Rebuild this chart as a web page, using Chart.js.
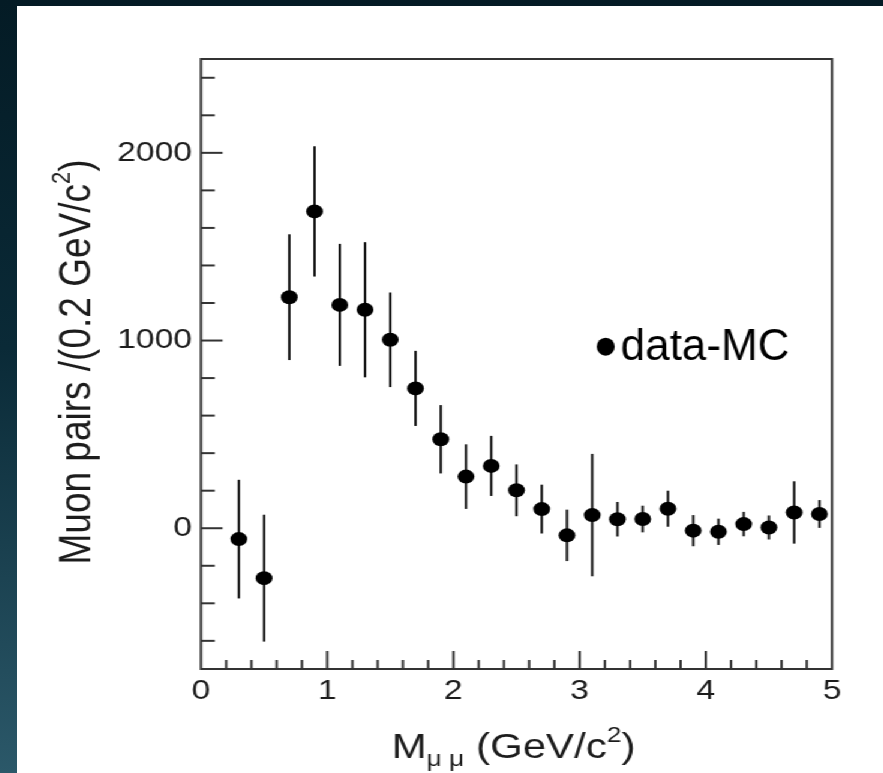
<!DOCTYPE html>
<html>
<head>
<meta charset="utf-8">
<script src="https://cdn.jsdelivr.net/npm/chart.js@4.4.0/dist/chart.umd.min.js"></script>
<style>
  html, body { margin: 0; padding: 0; }
  body {
    width: 883px; height: 773px; overflow: hidden;
    background: linear-gradient(180deg, #041b25 0%, #0a2a37 45%, #2b5869 100%);
  }
  /* the original figure is stretched sideways on the slide */
  #panel {
    position: absolute; left: 17px; top: 6px;
    width: 722px; height: 767px; background: #fff;
    transform: scaleX(1.2); transform-origin: 0 0;
  }
</style>
</head>
<body>
<div id="panel"><canvas id="muonChart" width="722" height="767"></canvas></div>
<script>
// bin centres (GeV/c^2), data-MC yields and their errors
const massBins = [0.3, 0.5, 0.7, 0.9, 1.1, 1.3, 1.5, 1.7, 1.9, 2.1, 2.3, 2.5,
                  2.7, 2.9, 3.1, 3.3, 3.5, 3.7, 3.9, 4.1, 4.3, 4.5, 4.7, 4.9];
const dataMinusMC = [-58, -266, 1231, 1688, 1190, 1164, 1004, 745, 474, 275, 332, 202,
                     102, -38, 70, 48, 49, 104, -13, -19, 22, 4, 84, 76];
const errors = [316, 338, 335, 347, 325, 360, 252, 200, 182, 172, 160, 138,
                130, 137, 326, 92, 71, 96, 83, 70, 65, 64, 166, 74];
const xTickLabels = [0, 1, 2, 3, 4, 5];
const yTickLabels = [0, 1000, 2000];
const legendLabel = 'data-MC';

const STRETCH = 1.2;
const FONT = "'Liberation Sans', Arial, sans-serif";
const INK = '#1c1c1c';

// draws text pieces (sub/superscripts) centred on 0
function drawPieces(ctx, pieces) {
  let total = 0;
  pieces.forEach(p => { ctx.font = p.size + 'px ' + FONT; p.w = ctx.measureText(p.t).width; total += p.w; });
  let cx = -total / 2;
  pieces.forEach(p => {
    ctx.font = p.size + 'px ' + FONT;
    ctx.fillText(p.t, cx, p.dy);
    cx += p.w;
  });
}

const physicsDecor = {
  id: 'physicsDecor',
  beforeDatasetsDraw(chart) {
    const { ctx, scales: { x, y } } = chart;
    ctx.save();
    ctx.strokeStyle = '#111';
    ctx.lineWidth = 2;
    massBins.forEach((m, i) => {
      const px = x.getPixelForValue(m);
      ctx.beginPath();
      ctx.moveTo(px, y.getPixelForValue(dataMinusMC[i] + errors[i]));
      ctx.lineTo(px, y.getPixelForValue(dataMinusMC[i] - errors[i]));
      ctx.stroke();
    });
    ctx.restore();
  },
  afterDraw(chart) {
    const { ctx, chartArea: a, scales: { x, y } } = chart;
    ctx.save();
    ctx.strokeStyle = '#333';
    ctx.lineWidth = 2;
    ctx.strokeRect(a.left, a.top, a.right - a.left, a.bottom - a.top);

    // inward ticks
    for (let v = -600; v <= 2400; v += 200) {
      const py = y.getPixelForValue(v);
      const len = v % 1000 === 0 ? 18 : 11.5;
      ctx.beginPath(); ctx.moveTo(a.left, py); ctx.lineTo(a.left + len, py); ctx.stroke();
    }
    for (let k = 1; k < 25; k++) {
      const px = x.getPixelForValue(k * 0.2);
      const len = k % 5 === 0 ? 18 : 9;
      ctx.beginPath(); ctx.moveTo(px, a.bottom); ctx.lineTo(px, a.bottom - len); ctx.stroke();
    }

    ctx.fillStyle = INK;
    ctx.textBaseline = 'alphabetic';
    ctx.textAlign = 'left';

    // y title
    ctx.save();
    ctx.translate(61, 356);
    ctx.rotate(-Math.PI / 2);
    drawPieces(ctx, [
      { t: 'Muon pairs /(0.2 GeV/c', size: 37, dy: 0 },
      { t: '2', size: 22, dy: -17 },
      { t: ')', size: 37, dy: 0 }
    ]);
    ctx.restore();

    // x title
    ctx.save();
    ctx.translate((a.left + a.right) / 2 - 2.5, 752);
    drawPieces(ctx, [
      { t: 'M', size: 35, dy: 0 },
      { t: '\u03bc \u03bc', size: 22, dy: 8 },
      { t: ' (GeV/c', size: 35, dy: 0 },
      { t: '2', size: 22, dy: -16 },
      { t: ')', size: 35, dy: 0 }
    ]);
    ctx.restore();

    // legend, added on the slide without the stretch
    ctx.save();
    ctx.translate(490.6, 340.7);
    ctx.scale(1 / STRETCH, 1);
    ctx.fillStyle = '#000';
    ctx.beginPath(); ctx.arc(0, 0, 9, 0, Math.PI * 2); ctx.fill();
    ctx.font = '44px ' + FONT;
    ctx.fillText(legendLabel, 15, 13.3);
    ctx.restore();

    ctx.restore();
  }
};

new Chart('muonChart', {
  type: 'scatter',
  data: {
    datasets: [{
      label: legendLabel,
      data: massBins.map((m, i) => ({ x: m, y: dataMinusMC[i] })),
      backgroundColor: '#000',
      borderWidth: 0,
      pointRadius: 7,
      pointHoverRadius: 7
    }]
  },
  options: {
    responsive: false,
    animation: false,
    devicePixelRatio: 1,
    layout: { padding: { top: 53, right: 42.8, left: 0, bottom: 0 } },
    plugins: { legend: { display: false }, tooltip: { enabled: false } },
    scales: {
      x: {
        type: 'linear', min: 0, max: 5,
        afterBuildTicks: s => { s.ticks = xTickLabels.map(v => ({ value: v })); },
        afterFit: s => { s.height = 104; },
        grid: { display: false, drawTicks: false },
        border: { display: false },
        ticks: { padding: 5, color: INK, font: { family: FONT, size: 28 }, maxRotation: 0,
                 callback: v => String(v) }
      },
      y: {
        type: 'linear', min: -750, max: 2500,
        afterBuildTicks: s => { s.ticks = yTickLabels.map(v => ({ value: v })); },
        afterFit: s => { s.width = 153.3; },
        grid: { display: false, drawTicks: false },
        border: { display: false },
        ticks: { padding: 7.5, color: INK, font: { family: FONT, size: 28 },
                 callback: v => String(v) }
      }
    }
  },
  plugins: [physicsDecor]
});
</script>
</body>
</html>
